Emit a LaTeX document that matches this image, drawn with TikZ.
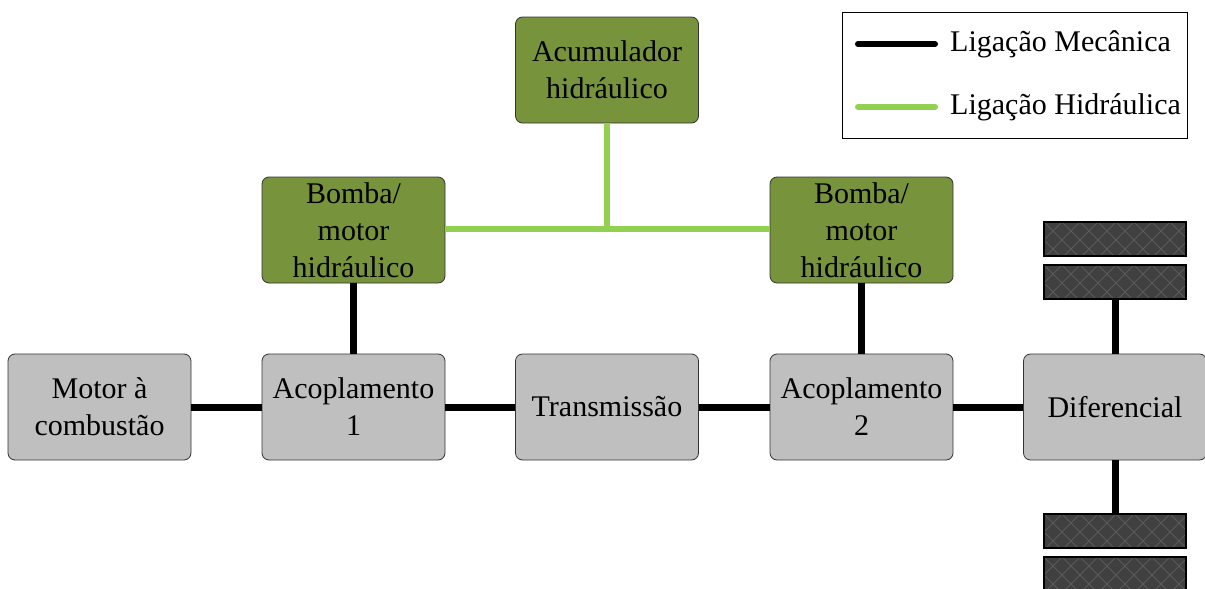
\documentclass[tikz,border=0pt]{standalone}
\usepackage{fontspec}
\setmainfont{Liberation Serif}
\begin{document}
\begin{tikzpicture}[x=1pt,y=-1pt,
  box/.style={draw=black!80, line width=0.8pt, rounded corners=7pt, minimum width=183pt, minimum height=106pt, align=center, inner sep=0pt, font=\fontsize{30}{37}\selectfont},
  grey/.style={box, fill=gray!50},
  hyd/.style={box, fill=hydgreen},
  mech/.style={line width=7pt, black},
  hline/.style={line width=6pt, lightgreen},
  wheel/.style={draw=black, line width=1.5pt, fill=wheelgray}]
\definecolor{hydgreen}{HTML}{77933C}
\definecolor{lightgreen}{HTML}{92D050}
\definecolor{wheelgray}{HTML}{404040}
\definecolor{hatch}{HTML}{5A5A5A}
\useasboundingbox (0,0) rectangle (1205,589);
% nodes
\node[grey] (motor) at (99.5,407) {Motor à\\combustão};
\node[grey] (acop1) at (353.5,407) {Acoplamento\\1};
\node[grey] (trans) at (607,407) {Transmissão};
\node[grey] (acop2) at (861.5,407) {Acoplamento\\2};
\node[grey] (dif) at (1115,407) {Diferencial};
\node[hyd] (bomba1) at (353.5,230) {Bomba/\\motor\\hidráulico};
\node[hyd] (bomba2) at (861.5,230) {Bomba/\\motor\\hidráulico};
\node[hyd] (acum) at (607,70) {Acumulador\\hidráulico};
% wheels
\foreach \ya/\yb in {222/256, 265/299, 514/548, 557/595}{
  \path[wheel] (1044,\ya) rectangle (1186,\yb);
  \begin{scope}
    \clip (1044,\ya) rectangle (1186,\yb);
    \foreach \k in {-4,...,10}{
      \draw[hatch, line width=1pt] ({1044+\k*18},\ya) -- ++(40,40);
      \draw[hatch, line width=1pt] ({1044+\k*18},\ya) -- ++(-40,40);
    }
  \end{scope}
  \path[draw=black, line width=1.5pt] (1044,\ya) rectangle (1186,\yb);
}
\coordinate (w2bot) at (1115,299);
\coordinate (w3top) at (1115,514);
% mechanical links
\draw[mech] (motor.east) -- (acop1.west);
\draw[mech] (acop1.east) -- (trans.west);
\draw[mech] (trans.east) -- (acop2.west);
\draw[mech] (acop2.east) -- (dif.west);
\draw[mech] (bomba1.south) -- (acop1.north);
\draw[mech] (bomba2.south) -- (acop2.north);
\draw[mech] (w2bot) -- (dif.north);
\draw[mech] (dif.south) -- (w3top);
% hydraulic links
\coordinate (junc) at (607,229);
\draw[hline] (bomba1.east |- junc) -- (bomba2.west |- junc);
\draw[hline] (acum.south) -- (junc);
% legend
\node[draw=black, line width=1pt, minimum width=345pt, minimum height=126pt, inner sep=0pt] (legend) at (1014.5,75) {};
\coordinate (l1a) at (858,44); \coordinate (l1b) at (935,44);
\coordinate (l2a) at (858,107); \coordinate (l2b) at (935,107);
\draw[line width=6pt, line cap=round] (l1a) -- (l1b);
\draw[line width=6pt, line cap=round, lightgreen] (l2a) -- (l2b);
\node[anchor=west, inner sep=0pt, font=\fontsize{30}{36}\selectfont] (t1) at (950,44) {Ligação Mecânica};
\node[anchor=west, inner sep=0pt, font=\fontsize{30}{36}\selectfont] (t2) at (950,107) {Ligação Hidráulica};
\end{tikzpicture}
\end{document}
